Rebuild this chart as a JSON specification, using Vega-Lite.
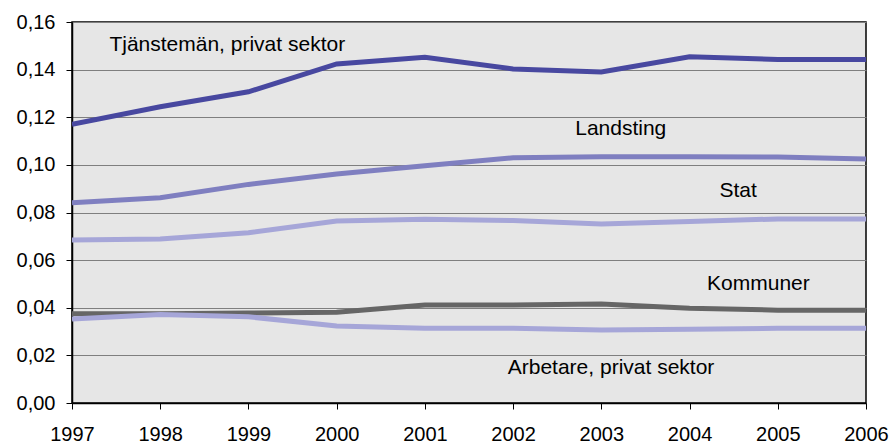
{
  "$schema": "https://vega.github.io/schema/vega-lite/v6.json",
  "autosize": "none",
  "width": 794,
  "height": 381,
  "padding": {"left": 72, "top": 22, "right": 24, "bottom": 40},
  "background": "white",
  "config": {
    "view": {"fill": "#e6e6e6", "stroke": "#000000", "strokeWidth": 1.5},
    "font": "Liberation Sans"
  },
  "datasets": {
    "series": [
      {"serie": "Tjänstemän, privat sektor", "year": 1997, "value": 0.1170},
      {"serie": "Tjänstemän, privat sektor", "year": 1998, "value": 0.1244},
      {"serie": "Tjänstemän, privat sektor", "year": 1999, "value": 0.1307},
      {"serie": "Tjänstemän, privat sektor", "year": 2000, "value": 0.1424},
      {"serie": "Tjänstemän, privat sektor", "year": 2001, "value": 0.1452},
      {"serie": "Tjänstemän, privat sektor", "year": 2002, "value": 0.1403},
      {"serie": "Tjänstemän, privat sektor", "year": 2003, "value": 0.1390},
      {"serie": "Tjänstemän, privat sektor", "year": 2004, "value": 0.1454},
      {"serie": "Tjänstemän, privat sektor", "year": 2005, "value": 0.1443},
      {"serie": "Tjänstemän, privat sektor", "year": 2006, "value": 0.1443},
      {"serie": "Landsting", "year": 1997, "value": 0.0841},
      {"serie": "Landsting", "year": 1998, "value": 0.0862},
      {"serie": "Landsting", "year": 1999, "value": 0.0918},
      {"serie": "Landsting", "year": 2000, "value": 0.0962},
      {"serie": "Landsting", "year": 2001, "value": 0.0996},
      {"serie": "Landsting", "year": 2002, "value": 0.1030},
      {"serie": "Landsting", "year": 2003, "value": 0.1034},
      {"serie": "Landsting", "year": 2004, "value": 0.1034},
      {"serie": "Landsting", "year": 2005, "value": 0.1033},
      {"serie": "Landsting", "year": 2006, "value": 0.1025},
      {"serie": "Stat", "year": 1997, "value": 0.0684},
      {"serie": "Stat", "year": 1998, "value": 0.0689},
      {"serie": "Stat", "year": 1999, "value": 0.0715},
      {"serie": "Stat", "year": 2000, "value": 0.0764},
      {"serie": "Stat", "year": 2001, "value": 0.0772},
      {"serie": "Stat", "year": 2002, "value": 0.0766},
      {"serie": "Stat", "year": 2003, "value": 0.0752},
      {"serie": "Stat", "year": 2004, "value": 0.0762},
      {"serie": "Stat", "year": 2005, "value": 0.0773},
      {"serie": "Stat", "year": 2006, "value": 0.0773},
      {"serie": "Kommuner", "year": 1997, "value": 0.0375},
      {"serie": "Kommuner", "year": 1998, "value": 0.0375},
      {"serie": "Kommuner", "year": 1999, "value": 0.0378},
      {"serie": "Kommuner", "year": 2000, "value": 0.0381},
      {"serie": "Kommuner", "year": 2001, "value": 0.0412},
      {"serie": "Kommuner", "year": 2002, "value": 0.0412},
      {"serie": "Kommuner", "year": 2003, "value": 0.0416},
      {"serie": "Kommuner", "year": 2004, "value": 0.0398},
      {"serie": "Kommuner", "year": 2005, "value": 0.0390},
      {"serie": "Kommuner", "year": 2006, "value": 0.0390},
      {"serie": "Arbetare, privat sektor", "year": 1997, "value": 0.0353},
      {"serie": "Arbetare, privat sektor", "year": 1998, "value": 0.0372},
      {"serie": "Arbetare, privat sektor", "year": 1999, "value": 0.0362},
      {"serie": "Arbetare, privat sektor", "year": 2000, "value": 0.0323},
      {"serie": "Arbetare, privat sektor", "year": 2001, "value": 0.0314},
      {"serie": "Arbetare, privat sektor", "year": 2002, "value": 0.0314},
      {"serie": "Arbetare, privat sektor", "year": 2003, "value": 0.0307},
      {"serie": "Arbetare, privat sektor", "year": 2004, "value": 0.0310},
      {"serie": "Arbetare, privat sektor", "year": 2005, "value": 0.0314},
      {"serie": "Arbetare, privat sektor", "year": 2006, "value": 0.0314}
    ],
    "labels": [
      {"label": "Tjänstemän, privat sektor", "year": 1998.76, "value": 0.1503},
      {"label": "Landsting", "year": 2003.22, "value": 0.1151},
      {"label": "Stat", "year": 2004.55, "value": 0.0890},
      {"label": "Kommuner", "year": 2004.78, "value": 0.0500},
      {"label": "Arbetare, privat sektor", "year": 2003.11, "value": 0.0147}
    ]
  },
  "layer": [
    {
      "data": {"name": "series"},
      "mark": {"type": "line", "strokeWidth": 5, "interpolate": "linear", "clip": true},
      "encoding": {
        "x": {
          "field": "year", "type": "quantitative",
          "scale": {"domain": [1997, 2006], "nice": false, "zero": false},
          "axis": {
            "title": null, "format": "d", "values": [1997, 1998, 1999, 2000, 2001, 2002, 2003, 2004, 2005, 2006],
            "grid": false, "domainColor": "#000000", "domainWidth": 1.5,
            "tickColor": "#000000", "tickSize": 6, "tickWidth": 1,
            "labelFontSize": 20, "labelColor": "#000000", "labelPadding": 15,
            "labelFont": "Liberation Sans", "labelFlush": false, "labelOverlap": false
          }
        },
        "y": {
          "field": "value", "type": "quantitative",
          "scale": {"domain": [0, 0.16], "nice": false},
          "axis": {
            "title": null, "values": [0, 0.02, 0.04, 0.06, 0.08, 0.1, 0.12, 0.14, 0.16],
            "labelExpr": "replace(format(datum.value, '.2f'), '.', ',')",
            "grid": true, "gridColor": "#7f7f7f", "gridWidth": 1,
            "domainColor": "#000000", "domainWidth": 1.5,
            "tickColor": "#000000", "tickSize": 6, "tickWidth": 1,
            "labelFontSize": 20, "labelColor": "#000000", "labelPadding": 11,
            "labelFont": "Liberation Sans", "labelOverlap": false
          }
        },
        "color": {
          "field": "serie", "type": "nominal", "legend": null,
          "scale": {
            "domain": ["Tjänstemän, privat sektor", "Landsting", "Stat", "Kommuner", "Arbetare, privat sektor"],
            "range": ["#4848a0", "#7f7fc0", "#a6a6d8", "#666666", "#a6a6d8"]
          }
        }
      }
    },
    {
      "data": {"name": "labels"},
      "mark": {"type": "text", "fontSize": 21, "font": "Liberation Sans", "color": "#000000", "baseline": "middle", "align": "center"},
      "encoding": {
        "x": {"field": "year", "type": "quantitative"},
        "y": {"field": "value", "type": "quantitative"},
        "text": {"field": "label"}
      }
    }
  ]
}
